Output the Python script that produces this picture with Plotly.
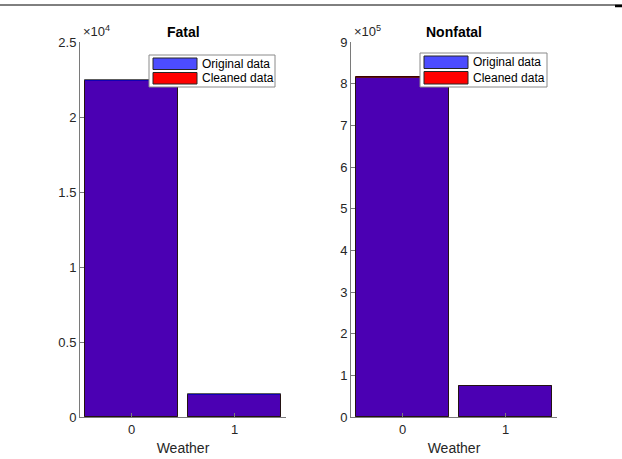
import plotly.graph_objects as go

# ---- data ----
weather = [0, 1]
fatal_original = [22450, 1510]
fatal_cleaned = [22420, 1500]
nonfatal_original = [813000, 75000]
nonfatal_cleaned = [816500, 75000]

fatal_tickvals = [0, 5000, 10000, 15000, 20000, 25000]
fatal_ticktext = ["0", "0.5", "1", "1.5", "2", "2.5"]
nonfatal_tickvals = [i * 100000 for i in range(10)]
nonfatal_ticktext = [str(i) for i in range(10)]

series_names = ["Original data", "Cleaned data"]

font = "Liberation Sans, Arial, sans-serif"
axis_col = "#7a7a7a"
txt_col = "#262626"
W, H = 622, 459
BLUE_A = "rgba(0,0,255,0.7)"
RED = "rgb(255,0,0)"

fig = go.Figure()

def add_pair(orig, clean, xa, ya):
    fig.add_trace(go.Bar(x=weather, y=clean, name=series_names[1], width=0.9,
                         marker=dict(color=RED, line=dict(color="#3a0000", width=1)),
                         xaxis=xa, yaxis=ya, showlegend=False))
    fig.add_trace(go.Bar(x=weather, y=orig, name=series_names[0], width=0.9,
                         marker=dict(color="rgb(0,0,255)", line=dict(color="#1a1a1a", width=1)),
                         opacity=0.7, xaxis=xa, yaxis=ya, showlegend=False))

add_pair(fatal_original, fatal_cleaned, "x", "y")
add_pair(nonfatal_original, nonfatal_cleaned, "x2", "y2")

x1d = [80 / W, 286 / W]
x2d = [351 / W, 557 / W]
yd = [1 - 417 / H, 1 - 42 / H]

common_x = dict(range=[-0.5, 1.5], tickvals=weather, ticktext=["0", "1"], showline=True,
                linecolor=axis_col, linewidth=1, ticks="inside", ticklen=4, tickcolor=axis_col,
                showgrid=False, zeroline=False, mirror=False, automargin=False,
                tickfont=dict(family=font, size=13, color=txt_col),
                title=dict(text="Weather", font=dict(family=font, size=14, color=txt_col), standoff=7))
common_y = dict(showline=True, linecolor=axis_col, linewidth=1, ticks="inside", ticklen=4,
                tickcolor=axis_col, showgrid=False, zeroline=False, automargin=False,
                tickfont=dict(family=font, size=13, color=txt_col))

def px(x):
    return x / W

def py(y):
    return 1 - y / H

shapes = [
    dict(type="line", xref="paper", yref="paper", x0=0, x1=1, y0=py(5), y1=py(5),
         line=dict(color="black", width=1)),
    dict(type="line", xref="paper", yref="paper", x0=px(615), x1=1, y0=py(6), y1=py(6),
         line=dict(color="black", width=2.5)),
]
annotations = [
    dict(text="<b>Fatal</b>", x=px(183), y=py(32), xref="paper", yref="paper",
         xanchor="center", yanchor="middle",
         showarrow=False, font=dict(family=font, size=14, color="black")),
    dict(text="<b>Nonfatal</b>", x=px(454), y=py(32), xref="paper", yref="paper",
         xanchor="center", yanchor="middle",
         showarrow=False, font=dict(family=font, size=14, color="black")),
    dict(text="×10<sup>4</sup>", x=px(81), y=py(41), xref="paper", yref="paper",
         xanchor="left", yanchor="bottom", showarrow=False,
         font=dict(family=font, size=13, color=txt_col)),
    dict(text="×10<sup>5</sup>", x=px(352), y=py(41), xref="paper", yref="paper",
         xanchor="left", yanchor="bottom", showarrow=False,
         font=dict(family=font, size=13, color=txt_col)),
]

# custom MATLAB-style legend boxes
for (bx0, bx1, by0, by1) in [(149, 275, 55, 87), (420, 547, 53, 87)]:
    shapes.append(dict(type="rect", xref="paper", yref="paper", x0=px(bx0), x1=px(bx1),
                       y0=py(by1), y1=py(by0), fillcolor="white",
                       line=dict(color="#8a8a8a", width=1), layer="above"))
    sx0 = bx0 + 4
    sx1 = sx0 + 44
    mid = (by0 + by1) / 2
    rows = [(by0 + 3, mid - 1.5, BLUE_A, series_names[0]), (mid + 1.5, by1 - 3, RED, series_names[1])]
    for (r0, r1, col, name) in rows:
        shapes.append(dict(type="rect", xref="paper", yref="paper", x0=px(sx0), x1=px(sx1),
                           y0=py(r1), y1=py(r0), fillcolor=col,
                           line=dict(color="#262626", width=1), layer="above"))
        annotations.append(dict(text=name, x=px(sx1 + 3), y=py((r0 + r1) / 2), xref="paper",
                                yref="paper", xanchor="left", yanchor="middle", showarrow=False,
                                font=dict(family=font, size=12, color="black")))

fig.update_layout(
    width=W, height=H, margin=dict(l=0, r=0, t=0, b=0, autoexpand=False),
    paper_bgcolor="white", plot_bgcolor="white", barmode="overlay", bargap=0,
    xaxis=dict(domain=x1d, anchor="y", **common_x),
    yaxis=dict(domain=yd, anchor="x", range=[0, 25000], tickvals=fatal_tickvals,
               ticktext=fatal_ticktext, **common_y),
    xaxis2=dict(domain=x2d, anchor="y2", **common_x),
    yaxis2=dict(domain=yd, anchor="x2", range=[0, 900000], tickvals=nonfatal_tickvals,
                ticktext=nonfatal_ticktext, **common_y),
    annotations=annotations,
    shapes=shapes,
)

fig.write_html("out.html")
